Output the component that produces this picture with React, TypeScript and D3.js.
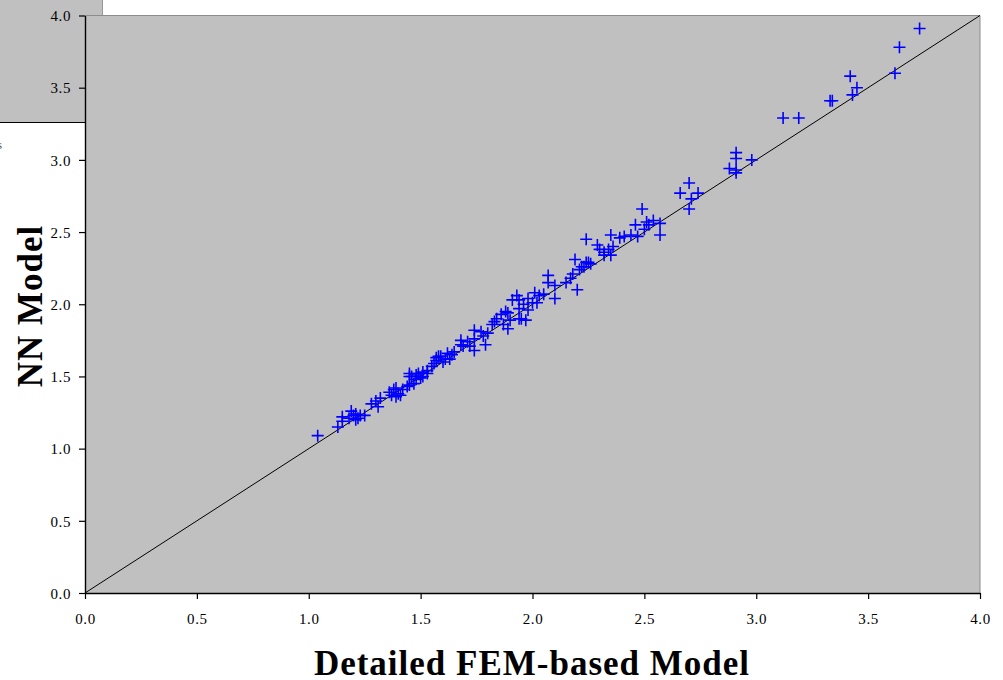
import React, { useEffect, useRef } from 'react'
import * as d3 from 'd3'

// FEM-based model value (x) vs NN model value (y)
const femValues: number[] = [
  1.04, 1.13, 1.15, 1.15, 1.18, 1.20, 1.21, 1.23, 1.25, 1.21, 1.22, 1.19,
  1.28, 1.30, 1.32, 1.31, 1.36, 1.38, 1.39, 1.37, 1.40, 1.39, 1.42, 1.41,
  1.44, 1.45, 1.47, 1.46, 1.48, 1.49, 1.51, 1.45, 1.45, 1.48, 1.50, 1.51,
  1.53, 1.53, 1.55, 1.56, 1.57, 1.58, 1.57, 1.59, 1.60, 1.61, 1.63, 1.62,
  1.64, 1.65, 1.68, 1.69, 1.72, 1.68, 1.71, 1.74, 1.74, 1.77, 1.78, 1.80,
  1.79, 1.74, 1.82, 1.87, 1.89, 1.83, 1.84, 1.86, 1.88, 1.89, 1.90, 1.94,
  1.95, 1.97, 1.94, 1.96, 1.98, 1.91, 1.93, 1.94, 1.98, 2.00, 2.02, 2.01,
  2.03, 2.05, 2.07, 2.07, 2.10, 2.10, 2.15, 2.17, 2.18, 2.21, 2.23, 2.24,
  2.26, 2.19, 2.20, 2.24, 2.29, 2.32, 2.36, 2.35, 2.41, 2.44, 2.46, 2.50,
  2.52, 2.57, 2.51, 2.57, 2.49, 2.47, 2.39, 2.30, 2.34, 2.32, 2.35, 2.22,
  2.25, 2.54, 2.66, 2.70, 2.74, 2.71, 2.70, 2.88, 2.91, 2.91, 2.91, 2.98,
  2.91, 3.12, 3.19, 3.33, 3.34, 3.42, 3.45, 3.43, 3.62, 3.64, 3.73
]
const nnValues: number[] = [
  1.09, 1.15, 1.19, 1.22, 1.21, 1.23, 1.24, 1.23, 1.23, 1.20, 1.21, 1.26,
  1.31, 1.33, 1.35, 1.29, 1.39, 1.41, 1.42, 1.37, 1.38, 1.36, 1.41, 1.37,
  1.43, 1.44, 1.45, 1.50, 1.51, 1.52, 1.53, 1.52, 1.50, 1.48, 1.49, 1.50,
  1.52, 1.54, 1.57, 1.59, 1.61, 1.64, 1.63, 1.64, 1.60, 1.62, 1.62, 1.66,
  1.65, 1.67, 1.72, 1.71, 1.71, 1.75, 1.74, 1.76, 1.82, 1.81, 1.78, 1.80,
  1.72, 1.68, 1.86, 1.86, 1.83, 1.88, 1.90, 1.93, 1.95, 1.94, 1.89, 1.90,
  1.90, 1.89, 1.97, 2.00, 1.96, 2.03, 2.06, 2.03, 2.04, 2.01, 2.01, 2.08,
  2.06, 2.07, 2.20, 2.15, 2.13, 2.04, 2.15, 2.18, 2.21, 2.24, 2.26, 2.29,
  2.28, 2.31, 2.10, 2.45, 2.41, 2.36, 2.40, 2.48, 2.47, 2.48, 2.55, 2.52,
  2.55, 2.56, 2.57, 2.48, 2.66, 2.47, 2.46, 2.38, 2.38, 2.34, 2.34, 2.26,
  2.29, 2.58, 2.77, 2.84, 2.77, 2.73, 2.66, 2.94, 2.91, 3.01, 3.05, 3.00,
  2.93, 3.29, 3.29, 3.41, 3.41, 3.58, 3.50, 3.45, 3.60, 3.78, 3.91
]
const tickValues: number[] = [0, 0.5, 1, 1.5, 2, 2.5, 3, 3.5, 4]
const xTitle = 'Detailed FEM-based Model'
const yTitle = 'NN Model'

const App = () => {
  const ref = useRef<SVGSVGElement>(null)

  useEffect(() => {
    const width = 1003, height = 680
    const left = 85, right = 980, top = 15.5, bottom = 593
    const serif = '"Liberation Serif", "Times New Roman", serif'

    const x = d3.scaleLinear().domain([0, 4]).range([left, right])
    const y = d3.scaleLinear().domain([0, 4]).range([bottom, top])

    const svg = d3.select(ref.current)
    svg.selectAll('*').remove()
    svg.attr('width', width).attr('height', height)

    // leftover frame of another chart peeking out at the top left
    svg.append('rect')
      .attr('x', 0).attr('y', 0).attr('width', 102).attr('height', 122)
      .attr('fill', '#c0c0c0')
    svg.append('line')
      .attr('x1', 102.5).attr('y1', 0).attr('x2', 102.5).attr('y2', 16)
      .attr('stroke', '#999').attr('stroke-width', 1)
    svg.append('line')
      .attr('x1', 0).attr('y1', 122.5).attr('x2', left).attr('y2', 122.5)
      .attr('stroke', '#000').attr('stroke-width', 1)
    svg.append('text')
      .attr('x', -3).attr('y', 149)
      .attr('font-family', serif).attr('font-size', 13).attr('fill', '#555')
      .text('s')

    // plot area
    svg.append('rect')
      .attr('x', left).attr('y', top)
      .attr('width', right - left).attr('height', bottom - top)
      .attr('fill', '#c0c0c0')
    svg.append('path')
      .attr('d', `M${left},${top}H${right}V${bottom}`)
      .attr('fill', 'none').attr('stroke', '#8c8c8c').attr('stroke-width', 1)

    // 1:1 reference line
    svg.append('line')
      .attr('x1', x(0)).attr('y1', y(0)).attr('x2', x(4)).attr('y2', y(4))
      .attr('stroke', '#000').attr('stroke-width', 1)

    // axes
    const xAxis = d3.axisBottom(x).tickValues(tickValues)
      .tickFormat(d3.format('.1f')).tickSize(6).tickSizeOuter(0)
    const yAxis = d3.axisLeft(y).tickValues(tickValues)
      .tickFormat(d3.format('.1f')).tickSize(6).tickSizeOuter(0)

    const gx = svg.append('g')
      .attr('transform', `translate(0,${bottom})`)
      .call(xAxis)
    gx.selectAll('text').attr('dy', null).attr('y', 31)
    const gy = svg.append('g')
      .attr('transform', `translate(${left},0)`)
      .call(yAxis)
    gy.selectAll('text').attr('x', -14).attr('dy', '0.35em')

    ;[gx, gy].forEach(g => {
      g.attr('font-family', null).attr('font-size', null)
      g.select('.domain').attr('stroke', '#000').attr('stroke-width', 1.4)
      g.selectAll('.tick line').attr('stroke', '#000').attr('stroke-width', 1.2)
      g.selectAll('text')
        .attr('fill', '#000')
        .style('font-family', serif)
        .style('font-size', '15px')
        .style('letter-spacing', '0.6px')
    })

    // points as plus markers
    const points = femValues.map((v, i) => ({ fem: v, nn: nnValues[i] }))
    const arm = 6
    svg.append('g')
      .selectAll('path')
      .data(points)
      .enter()
      .append('path')
      .attr('d', d => {
        const px = x(d.fem), py = y(d.nn)
        return `M${px - arm},${py}H${px + arm}M${px},${py - arm}V${py + arm}`
      })
      .attr('stroke', '#0000ff')
      .attr('stroke-width', 1.6)
      .attr('fill', 'none')

    // titles
    svg.append('text')
      .attr('x', 532).attr('y', 675)
      .attr('text-anchor', 'middle')
      .style('font-family', serif).style('font-weight', 'bold')
      .style('font-size', '35px').style('letter-spacing', '1px')
      .text(xTitle)
    svg.append('text')
      .attr('transform', 'translate(42,306) rotate(-90)')
      .attr('text-anchor', 'middle')
      .style('font-family', serif).style('font-weight', 'bold')
      .style('font-size', '35px').style('letter-spacing', '1px')
      .text(yTitle)
  }, [])

  return (
    <svg ref={ref} style={{ position: 'absolute', left: 0, top: 0, display: 'block' }} />
  )
}

export default App
